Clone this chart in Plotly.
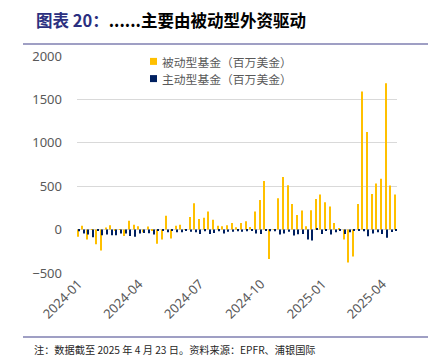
import datetime as dt
import plotly.graph_objects as go

# ---- data ----
start_date = "2024-01-03"
n_weeks = 69
passive = [-83, 45, -115, 5, -170, -240, 25, 50, -10, 5, -75, 102, 57, 38, -30, 35, -5,
           -163, -115, 160, -102, 45, 57, 5, 145, 303, 121, 136, 208, 114, 45, 38, 50,
           75, 27, 75, 95, 30, 208, 340, 560, -340, 5, 360, 606, 511, 295, 167, 220, 38,
           224, 352, 405, 314, 265, 76, 19, -114, -380, -311, 295, 1590, 1125, 409, 530,
           587, 1686, 508, 405]
active = [-20, -45, -57, -87, -15, -65, -57, -65, -65, -45, -45, -75, -83, -45, -38, -42, -57,
          -10, -5, -30, -10, -30, -30, -5, -25, -30, -50, -20, -50, -38, -20, -45, -25,
          -25, -20, -25, -20, -5, -45, -50, -10, -20, -20, -57, -45, -25, -68, -53, -50, -114,
          -125, 19, -50, -10, -57, -30, -5, -50, -30, -5, -5, -19, -76, -45, -30, -50,
          -95, -27, -10]
tick_dates = ["2024-01-03", "2024-04-03", "2024-07-03", "2024-10-03", "2025-01-03", "2025-04-03"]
tick_labels = ["2024-01", "2024-04", "2024-07", "2024-10", "2025-01", "2025-04"]
y_ticks = [-500, 0, 500, 1000, 1500, 2000]
name_passive = "被动型基金（百万美金）"
name_active = "主动型基金（百万美金）"
title_a = "图表 20："
title_b = "......主要由被动型外资驱动"
note = "注：数据截至 2025 年 4 月 23 日。资料来源：EPFR、浦银国际"
col_passive = "#FFC000"
col_active = "#002060"

d0 = dt.date.fromisoformat(start_date)
dates = [d0 + dt.timedelta(weeks=i) for i in range(n_weeks)]

# page body adds an 8px offset; work in reference pixels and subtract it
OFF = 8
W, H = 440 - OFF, 359 - OFF
L, T = 77 - OFF, 56 - OFF
pw, ph = 320, 217
R, B = W - L - pw, H - T - ph

def px(x):
    return (x - OFF - L) / pw

def py(y):
    return 1 - (y - OFF - T) / ph

DAY = 86400000
bw = 1.6 * DAY

fig = go.Figure()
fig.add_trace(go.Bar(x=dates, y=passive, name=name_passive, marker_color=col_passive,
                     marker_line_width=0, width=bw, offset=-bw, showlegend=False))
fig.add_trace(go.Bar(x=dates, y=active, name=name_active, marker_color=col_active,
                     marker_line_width=0, width=bw, offset=0, showlegend=False))

x0 = (dates[0] - dt.timedelta(days=2)).isoformat()
x1 = (dates[-1] + dt.timedelta(days=2)).isoformat()

fig.update_layout(
    width=W, height=H, margin=dict(l=L, r=R, t=T, b=B, autoexpand=False),
    paper_bgcolor="white", plot_bgcolor="white",
    barmode="overlay", showlegend=False,
    font=dict(family="Noto Sans, Noto Sans CJK SC", color="#595959"),
    xaxis=dict(type="date", range=[x0, x1], tickvals=tick_dates, ticktext=tick_labels,
               tickangle=-45, showgrid=False, zeroline=False, showline=False,
               tickfont=dict(size=13, color="#595959"), ticks="", automargin=False),
    yaxis=dict(range=[-500, 2000], tickvals=y_ticks, showgrid=True, gridcolor="#D9D9D9",
               gridwidth=1, zeroline=True, zerolinecolor="#D9D9D9", zerolinewidth=1,
               showline=False, tickfont=dict(size=13, color="#595959"), ticks="",
               ticklabelstandoff=14, automargin=False),
)

# custom legend
for yc, name, col in ((61.4, name_passive, col_passive), (78.6, name_active, col_active)):
    fig.add_shape(type="rect", xref="paper", yref="paper", x0=px(150), x1=px(157),
                  y0=py(yc - 3.5), y1=py(yc + 3.5), fillcolor=col, line_width=0)
    fig.add_annotation(xref="paper", yref="paper", x=px(160), y=py(yc), xanchor="left",
                       yanchor="middle", showarrow=False, text=name,
                       font=dict(family="Noto Sans CJK SC", size=11.8, color="#595959"))

line_col = "#7F7FB0"
for yy in (44, 337):
    fig.add_shape(type="line", xref="paper", yref="paper", x0=px(23), x1=px(428),
                  y0=py(yy), y1=py(yy), line=dict(color=line_col, width=1.5))

fig.add_annotation(xref="paper", yref="paper", x=px(34), y=py(20), xanchor="left",
                   yanchor="middle", showarrow=False,
                   text=f"<b><span style='color:#2B2F80'>{title_a}</span>{title_b}</b>",
                   font=dict(family="Noto Sans CJK SC", size=16.5, color="#000000"))
fig.add_annotation(xref="paper", yref="paper", x=px(32), y=py(349), xanchor="left",
                   yanchor="middle", showarrow=False, text=note,
                   font=dict(family="Noto Sans CJK SC", size=10.2, color="#262626"))

fig.write_html("out.html")
